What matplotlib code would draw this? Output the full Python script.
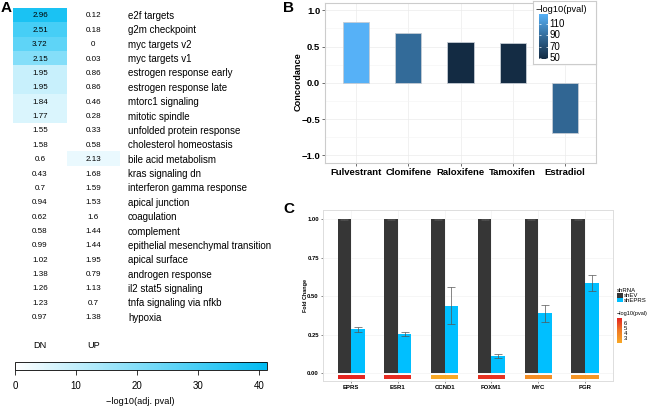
import matplotlib
matplotlib.use("Agg")
import matplotlib.pyplot as plt
import numpy as np
from matplotlib.colors import LinearSegmentedColormap, Normalize
from matplotlib.patches import Rectangle
from matplotlib.cm import ScalarMappable

plt.rcParams['font.family'] = ['Liberation Sans', 'DejaVu Sans']

# ---- panel A data ----
gene_sets = ["e2f targets", "g2m checkpoint", "myc targets v2", "myc targets v1",
             "estrogen response early", "estrogen response late", "mtorc1 signaling",
             "mitotic spindle", "unfolded protein response", "cholesterol homeostasis",
             "bile acid metabolism", "kras signaling dn", "interferon gamma response",
             "apical junction", "coagulation", "complement",
             "epithelial mesenchymal transition", "apical surface", "androgen response",
             "il2 stat5 signaling", "tnfa signaling via nfkb", "hypoxia"]
dn_values = [2.96, 2.51, 3.72, 2.15, 1.95, 1.95, 1.84, 1.77, 1.55, 1.58, 0.6,
             0.43, 0.7, 0.94, 0.62, 0.58, 0.99, 1.02, 1.38, 1.26, 1.23, 0.97]
up_values = [0.12, 0.18, 0, 0.03, 0.86, 0.86, 0.46, 0.28, 0.33, 0.58, 2.13,
             1.68, 1.59, 1.53, 1.6, 1.44, 1.44, 1.95, 0.79, 1.13, 0.7, 1.38]
# -log10(adj. pval) behind the cell colours (estimated from shading)
dn_logp = [37, 30, 26, 20, 9, 9, 6, 6, 0, 0, 0, 0, 0, 0, 0, 0, 0, 0, 0, 0, 0, 0]
up_logp = [0, 0, 0, 0, 0, 0, 0, 0, 0, 0, 3.5, 0, 0, 0, 0, 0, 0, 0, 0, 0, 0, 0]
cbar_a_ticks = [0, 10, 20, 30, 40]

# ---- panel B data ----
drugs = ["Fulvestrant", "Clomifene", "Raloxifene", "Tamoxifen", "Estradiol"]
concordance = [0.84, 0.69, 0.56, 0.55, -0.69]
drug_logp = [126.7, 88, 48.5, 49, 85]
cbar_b_ticks = [50, 70, 90, 110]

# ---- panel C data ----
genes = ["EPRS", "ESR1", "CCND1", "FOXM1", "MYC", "PGR"]
shev = [1, 1, 1, 1, 1, 1]
shev_err = [0.002, 0.002, 0.002, 0.002, 0.002, 0.002]
sheprs = [0.285, 0.257, 0.44, 0.112, 0.39, 0.586]
sheprs_err = [0.014, 0.012, 0.12, 0.014, 0.056, 0.051]
gene_logp = [7.2, 7.0, 1.9, 6.8, 3.4, 3.0]
cbar_c_ticks = [3, 4, 5, 6]

W, H = 650, 409
fig = plt.figure(figsize=(6.5, 4.09), dpi=100)


def rect(l, t, r, b):
    return [l / W, 1 - b / H, (r - l) / W, (b - t) / H]


# ================= A =================
cmap_a = LinearSegmentedColormap.from_list("a", ["#FFFFFF", "#00BBF2"])
norm_a = Normalize(0, 41.3)

axA = fig.add_axes(rect(13.3, 7.8, 120, 323.9))
grid_vals = np.column_stack([dn_logp, up_logp])
axA.pcolormesh(np.arange(3), np.arange(len(gene_sets) + 1), grid_vals,
               cmap=cmap_a, norm=norm_a)
axA.set_xlim(0, 2)
axA.set_ylim(len(gene_sets), 0)
axA.axis("off")
for i, name in enumerate(gene_sets):
    axA.text(0.5, i + 0.5, f"{dn_values[i]:g}", ha="center", va="center_baseline", fontsize=5.8)
    axA.text(1.5, i + 0.5, f"{up_values[i]:g}", ha="center", va="center_baseline", fontsize=5.8)
    axA.text(2.15, i + 0.5, name, ha="left", va="center_baseline", fontsize=7, clip_on=False)
axA.text(0.5, 23.47, "DN", ha="center", va="center", fontsize=6.6, clip_on=False)
axA.text(1.5, 23.47, "UP", ha="center", va="center", fontsize=6.6, clip_on=False)

caxA = fig.add_axes(rect(15, 361.7, 266.7, 370))
cbA = fig.colorbar(ScalarMappable(norm=norm_a, cmap=cmap_a), cax=caxA, orientation="horizontal")
cbA.set_ticks(cbar_a_ticks)
cbA.outline.set_linewidth(0.6)
caxA.tick_params(length=3.6, width=0.7, labelsize=7, pad=4.5, color="#333333")

# ================= B =================
cmap_b = LinearSegmentedColormap.from_list("b", ["#132B43", "#336A98", "#56B1F7"])
norm_b = Normalize(48.2, 126.7)

axB = fig.add_axes(rect(325, 3, 596, 162.7))
xb = np.arange(1, len(drugs) + 1)
axB.bar(xb, concordance, width=0.5, color=cmap_b(norm_b(drug_logp)),
        edgecolor="#C5CCD4", linewidth=0.6, zorder=3)
axB.set_xlim(0.4, len(drugs) + 0.6)
axB.set_ylim(-1.1, 1.1)
axB.set_xticks(xb)
axB.set_xticklabels(drugs, fontweight="bold", fontsize=6.8)
axB.set_yticks([-1, -0.5, 0, 0.5, 1])
axB.set_yticklabels(["\u22121.0", "\u22120.5", "0.0", "0.5", "1.0"], fontweight="bold", fontsize=6.8)
axB.set_yticks([-0.75, -0.25, 0.25, 0.75], minor=True)
axB.tick_params(which="minor", length=0)
axB.tick_params(which="major", length=2, width=0.5, color="#333333", pad=1.5)
axB.grid(which="major", color="#EBEBEB", linewidth=0.5, zorder=0)
axB.grid(which="minor", axis="y", color="#F4F4F4", linewidth=0.4, zorder=0)
axB.set_axisbelow(True)
for s in axB.spines.values():
    s.set_color("#CCCCCC")
    s.set_linewidth(0.8)

legB = fig.add_axes(rect(533, 1, 596, 64))
legB.set_xticks([])
legB.set_yticks([])
for s in legB.spines.values():
    s.set_color("#CCCCCC")
    s.set_linewidth(0.8)

caxB = fig.add_axes(rect(539, 14.3, 547.7, 59))
grad = np.linspace(norm_b.vmin, norm_b.vmax, 200).reshape(-1, 1)
caxB.imshow(grad, cmap=cmap_b, norm=norm_b, origin="lower", aspect="auto",
            extent=[0, 1, norm_b.vmin, norm_b.vmax])
caxB.hlines(cbar_b_ticks, 0, 0.2, colors="white", linewidth=0.5)
caxB.hlines(cbar_b_ticks, 0.8, 1, colors="white", linewidth=0.5)
caxB.set_xlim(0, 1)
caxB.set_ylim(norm_b.vmin, norm_b.vmax)
caxB.axis("off")

# ================= C =================
cmap_c = LinearSegmentedColormap.from_list("c", ["#F9A825", "#F07A25", "#E52521"])
norm_c = Normalize(1.9, 7.2)

axC = fig.add_axes(rect(323, 210, 613, 381))
xc = np.arange(1, len(genes) + 1)
bw = 0.29
ekw = dict(ecolor="#555555", elinewidth=0.5, capsize=3.2, capthick=0.5)
axC.bar(xc - bw / 2, shev, bw, yerr=shev_err, color="#363636", error_kw=ekw, zorder=3)
axC.bar(xc + bw / 2, sheprs, bw, yerr=sheprs_err, color="#00BFFF", error_kw=ekw, zorder=3)
axC.bar(xc, 0.026, width=2 * bw, bottom=-0.037, color=cmap_c(norm_c(gene_logp)), zorder=3)
axC.set_xlim(0.4, len(genes) + 0.6)
axC.set_ylim(-0.05, 1.0604)
axC.set_xticks(xc)
axC.set_xticklabels(genes, fontweight="bold", fontsize=4.3)
axC.set_yticks([0, 0.25, 0.5, 0.75, 1])
axC.set_yticklabels(["0.00", "0.25", "0.50", "0.75", "1.00"], fontweight="bold", fontsize=4.2)
axC.tick_params(length=1.5, width=0.4, color="#333333", pad=1.5)
axC.grid(color="#F0F0F0", linewidth=0.4, zorder=0)
axC.set_axisbelow(True)
for s in axC.spines.values():
    s.set_color("#DDDDDD")
    s.set_linewidth(0.7)

caxC = fig.add_axes(rect(617.3, 318.3, 621.5, 343.3))
gradc = np.linspace(norm_c.vmin, norm_c.vmax, 200).reshape(-1, 1)
caxC.imshow(gradc, cmap=cmap_c, norm=norm_c, origin="lower", aspect="auto",
            extent=[0, 1, norm_c.vmin, norm_c.vmax])
caxC.set_xlim(0, 1)
caxC.set_ylim(norm_c.vmin, norm_c.vmax)
caxC.axis("off")

# ================= overlay: labels and legend texts =================
ov = fig.add_axes([0, 0, 1, 1])
ov.set_xlim(0, W)
ov.set_ylim(H, 0)
ov.axis("off")
ov.patch.set_alpha(0)

for letter, (lx, ly) in {"A": (1, 8), "B": (283, 8), "C": (283, 209)}.items():
    ov.text(lx, ly, letter, fontsize=11, fontweight="bold", ha="left", va="center")

ov.text(140, 402, "\u2212log10(adj. pval)", fontsize=6.6, ha="center", va="center")
ov.text(297.7, 82, "Concordance", fontsize=6.6, fontweight="bold", rotation=90, ha="center", va="center")
ov.text(306, 296, "Fold Change", fontsize=3.9, fontweight="bold", rotation=90, ha="center", va="center")

# legend B texts
ov.text(535, 9, "\u2212log10(pval)", fontsize=6.7, ha="left", va="center")
for v in cbar_b_ticks:
    yy = 59 - (v - norm_b.vmin) / (norm_b.vmax - norm_b.vmin) * (59 - 14.3)
    ov.text(549.5, yy, str(v), fontsize=7, ha="left", va="center")

# legend C
ov.text(617, 290, "shRNA", fontsize=4.3, ha="left", va="center")
ov.add_patch(Rectangle((617.3, 293.3), 5.5, 4.2, color="#363636", lw=0))
ov.add_patch(Rectangle((617.3, 297.9), 5.5, 4.2, color="#00BFFF", lw=0))
ov.text(623.8, 295.4, "shEV", fontsize=4.3, ha="left", va="center")
ov.text(623.8, 300.0, "shEPRS", fontsize=4.3, ha="left", va="center")
ov.text(617, 313.3, "\u2212log10(pval)", fontsize=4.0, ha="left", va="center")
for v in cbar_c_ticks:
    yy = 343.3 - (v - norm_c.vmin) / (norm_c.vmax - norm_c.vmin) * (343.3 - 318.3)
    ov.text(623.8, yy, str(v), fontsize=4.3, ha="left", va="center")

fig.savefig("out.png", dpi=100, facecolor="white")
